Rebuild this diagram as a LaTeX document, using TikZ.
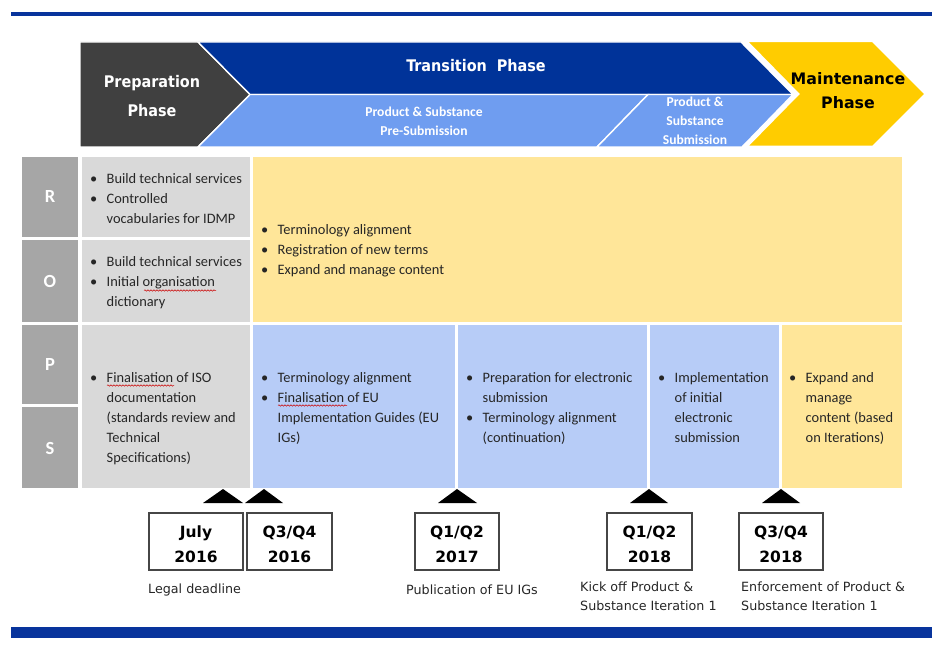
\documentclass[tikz,border=0pt]{standalone}
\usepackage{fontspec}
\usepackage{array}
\usetikzlibrary{decorations.pathmorphing}
\setmainfont{Carlito}
\newfontfamily\hdfont{DejaVu Sans Condensed}
\newfontfamily\vfont{DejaVu Sans}
\definecolor{barblue}{RGB}{8,52,156}
\definecolor{darkhd}{RGB}{64,64,64}
\definecolor{trblue}{RGB}{0,51,153}
\definecolor{ltblue}{RGB}{111,157,240}
\definecolor{mtyellow}{RGB}{255,204,0}
\definecolor{lettergray}{RGB}{166,166,166}
\definecolor{cellgray}{RGB}{217,217,217}
\definecolor{cellyellow}{RGB}{255,230,153}
\definecolor{cellblue}{RGB}{183,204,247}
\definecolor{boxline}{RGB}{70,70,70}
\newcommand\cellbody[1]{\fontsize{14.4}{20}\selectfont\begin{tabular}{@{}p{16.5pt}@{}l@{}}#1\end{tabular}}
\tikzset{
  hdshape/.style={draw=white,line width=1.4pt},
  letter/.style={text=white,font=\fontsize{18.5}{20}\selectfont\bfseries},
  celltxt/.style={anchor=north west,inner sep=0pt,text=black!85},
  datebox/.style={draw=boxline,line width=1.3pt,fill=white},
  datetxt/.style={font=\vfont\fontsize{15.5}{25}\selectfont\bfseries,align=center,text=black},
  marker/.style={fill=black},
  note/.style={anchor=west,inner sep=0pt,font=\vfont\fontsize{12.7}{19}\selectfont,align=left,text=black!85},
  squiggle/.style={draw=red!80!black,line width=0.5pt,decorate,decoration={snake,segment length=3pt,amplitude=0.7pt}}
}
\begin{document}
\begin{tikzpicture}[x=1pt,y=-1pt]
\useasboundingbox (0,0) rectangle (945,647);
% bars
\fill[barblue] (11,12) rectangle (932,16);
\fill[barblue] (11,627) rectangle (932,638);
% header
\path[hdshape,fill=darkhd] (80,42) -- (198,42) -- (250,94.5) -- (198,147) -- (80,147) -- cycle;
\path[hdshape,fill=trblue] (198,42) -- (741,42) -- (793,94.5) -- (250,94.5) -- cycle;
\path[hdshape,fill=ltblue] (250,94.5) -- (648,94.5) -- (597,147) -- (198,147) -- cycle;
\path[hdshape,fill=ltblue] (648,94.5) -- (793,94.5) -- (742,147) -- (597,147) -- cycle;
\path[draw=white,line width=2.5pt,fill=mtyellow] (746,41) -- (873,41) -- (926,94) -- (873,147) -- (746,147) -- (798,94) -- cycle;
\node[text=white,font=\hdfont\fontsize{16}{29}\selectfont\bfseries,align=center] (prep) at (152,96) {Preparation\\Phase};
\node[text=white,font=\hdfont\fontsize{16}{18}\selectfont\bfseries] (trans) at (476,66) {Transition\ \ Phase};
\node[text=white,font=\fontsize{13.6}{19}\selectfont\bfseries,align=center] (presub) at (424,121) {Product \& Substance\\Pre-Submission};
\node[text=white,font=\fontsize{13.6}{19}\selectfont\bfseries,align=center] (sub) at (695,121) {Product \&\\Substance\\Submission};
\node[text=black,font=\vfont\fontsize{15.8}{24}\selectfont\bfseries,align=center] (maint) at (848,91) {Maintenance\\Phase};
% table
\fill[lettergray] (22,157) rectangle (78,237);
\fill[lettergray] (22,240) rectangle (78,322);
\fill[lettergray] (22,325) rectangle (78,404);
\fill[lettergray] (22,407) rectangle (78,488);
\fill[cellgray] (82,157) rectangle (250,237);
\fill[cellgray] (82,240) rectangle (250,322);
\fill[cellgray] (82,325) rectangle (250,488);
\fill[cellyellow] (253,157) rectangle (902,322);
\fill[cellblue] (253,325) rectangle (455,488);
\fill[cellblue] (458,325) rectangle (647,488);
\fill[cellblue] (650,325) rectangle (779,488);
\fill[cellyellow] (782,325) rectangle (902,488);
\node[letter] (lR) at (50,197) {R};
\node[letter] (lO) at (50,281) {O};
\node[letter] (lP) at (50,365) {P};
\node[letter] (lS) at (50,448) {S};
\node[celltxt] (tR) at (90,169.5) {\cellbody{\textbullet & Build technical services\\ \textbullet & Controlled\\ & vocabularies for IDMP}};
\node[celltxt] (tO) at (90,252.5) {\cellbody{\textbullet & Build technical services\\ \textbullet & Initial organisation\\ & dictionary}};
\node[celltxt] (tRO) at (261,220.5) {\cellbody{\textbullet & Terminology alignment\\ \textbullet & Registration of new terms\\ \textbullet & Expand and manage content}};
\node[celltxt] (tPS1) at (90,368.5) {\cellbody{\textbullet & Finalisation of ISO\\ & documentation\\ & (standards review and\\ & Technical\\ & Specifications)}};
\node[celltxt] (tPS2) at (261,368.5) {\cellbody{\textbullet & Terminology alignment\\ \textbullet & Finalisation of EU\\ & Implementation Guides (EU\\ & IGs)}};
\node[celltxt] (tPS3) at (466,368.5) {\cellbody{\textbullet & Preparation for electronic\\ & submission\\ \textbullet & Terminology alignment\\ & (continuation)}};
\node[celltxt] (tPS4) at (658,368.5) {\cellbody{\textbullet & Implementation\\ & of initial\\ & electronic\\ & submission}};
\node[celltxt] (tPS5) at (789,368.5) {\cellbody{\textbullet & Expand and\\ & manage\\ & content (based\\ & on Iterations)}};
% spell-check marks
\path[squiggle] (144,290.5) -- (216,290.5);
\path[squiggle] (107,385.5) -- (174,385.5);
\path[squiggle] (278,405.5) -- (347,405.5);
% markers
\fill[marker] (203,503) -- (223,489) -- (243,503) -- cycle;
\fill[marker] (245,503) -- (264,489) -- (283,503) -- cycle;
\fill[marker] (438,503) -- (457,489) -- (477,503) -- cycle;
\fill[marker] (630,503) -- (649,489) -- (668,503) -- cycle;
\fill[marker] (762,503) -- (781,489) -- (800,503) -- cycle;
% date boxes
\draw[datebox] (149,513) rectangle (243,570);
\draw[datebox] (247,513) rectangle (332,570);
\draw[datebox] (415,513) rectangle (499,570);
\draw[datebox] (607,513) rectangle (692,570);
\draw[datebox] (739,513) rectangle (823,570);
\node[datetxt] (d1) at (196,544.5) {July\\2016};
\node[datetxt] (d2) at (289.5,544.5) {Q3/Q4\\2016};
\node[datetxt] (d3) at (457,544.5) {Q1/Q2\\2017};
\node[datetxt] (d4) at (649.5,544.5) {Q1/Q2\\2018};
\node[datetxt] (d5) at (781,544.5) {Q3/Q4\\2018};
% notes
\node[note] (n1) at (148,590) {Legal deadline};
\node[note] (n2) at (406,590) {Publication of EU IGs};
\node[note] (n3) at (580,596.5) {Kick off Product \&\\Substance Iteration 1};
\node[note] (n4) at (741,596.5) {Enforcement of Product \&\\Substance Iteration 1};
\end{tikzpicture}
\end{document}
